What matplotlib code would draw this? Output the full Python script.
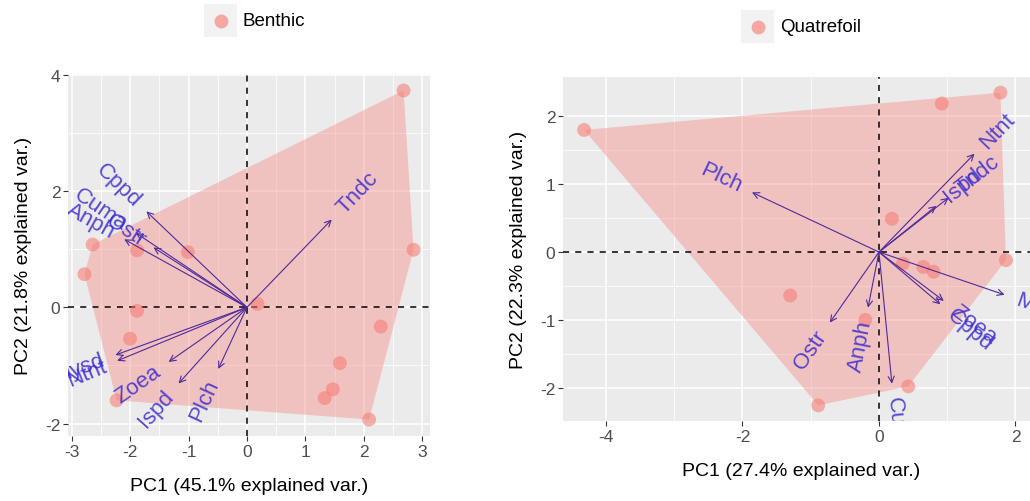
import numpy as np
import matplotlib
matplotlib.use("Agg")
import matplotlib.pyplot as plt
from matplotlib.patches import Rectangle, Polygon
from matplotlib.lines import Line2D
from matplotlib.transforms import offset_copy

plt.rcParams['font.family'] = ['Liberation Sans', 'DejaVu Sans']

# ---------------- data: Benthic ----------------
ben_pc1 = [2.68, 2.85, 2.29, 1.59, 1.47, 1.33, 2.09, 0.18, -1.01, -1.88,
           -2.64, -2.78, -1.88, -2.00, -2.23]
ben_pc2 = [3.73, 0.99, -0.33, -0.96, -1.41, -1.56, -1.93, 0.06, 0.95, 0.98,
           1.08, 0.57, -0.06, -0.54, -1.60]
ben_vars = ["Tndc", "Cppd", "Ostr", "Cuma", "Anph", "Mysd", "Ntnt", "Zoea", "Ispd", "Plch"]
ben_vx = [1.45, -1.72, -1.60, -1.90, -2.10, -2.25, -2.22, -1.34, -1.17, -0.49]
ben_vy = [1.51, 1.65, 1.03, 1.28, 1.17, -0.82, -0.92, -0.94, -1.31, -1.06]
ben_xlabel = "PC1 (45.1% explained var.)"
ben_ylabel = "PC2 (21.8% explained var.)"
ben_group = "Benthic"

# ---------------- data: Quatrefoil ----------------
qua_pc1 = [-4.32, 0.92, 1.78, 0.19, 1.86, 0.35, 0.65, 0.80, -1.30, -0.20, 0.43, -0.89]
qua_pc2 = [1.80, 2.19, 2.35, 0.49, -0.12, -0.17, -0.22, -0.29, -0.64, -1.00, -1.98, -2.26]
qua_vars = ["Plch", "Ntnt", "Ispd", "Tndc", "Mysd", "Zoea", "Cppd", "Ostr", "Anph", "Cuma"]
qua_vx = [-1.86, 1.40, 0.84, 1.02, 1.84, 0.95, 0.90, -0.72, -0.16, 0.19]
qua_vy = [0.88, 1.45, 0.68, 0.80, -0.63, -0.72, -0.77, -1.04, -0.82, -1.94]
qua_xlabel = "PC1 (27.4% explained var.)"
qua_ylabel = "PC2 (22.3% explained var.)"
qua_group = "Quatrefoil"

W, H = 1030, 502
fig = plt.figure(figsize=(W / 100, H / 100), dpi=100)

PT_COL = "#F8766D"
ARROW_COL = "#4f2a9c"
TEXT_COL = "#3a2ccf"
PANEL = "#EBEBEB"


def hull(xs, ys):
    pts = sorted(set(zip(xs, ys)))
    def cross(o, a, b):
        return (a[0] - o[0]) * (b[1] - o[1]) - (a[1] - o[1]) * (b[0] - o[0])
    lower, upper = [], []
    for p in pts:
        while len(lower) >= 2 and cross(lower[-2], lower[-1], p) <= 0:
            lower.pop()
        lower.append(p)
    for p in reversed(pts):
        while len(upper) >= 2 and cross(upper[-2], upper[-1], p) <= 0:
            upper.pop()
        upper.append(p)
    return lower[:-1] + upper[:-1]


def expand(vals, f=0.05):
    lo, hi = min(vals), max(vals)
    d = (hi - lo) * f
    return lo - d, hi + d


def panel(box, extra_right, pc1, pc2, vars_, vx, vy, xlabel, ylabel,
          xmajor, xminor, ymajor, yminor):
    x0, y0, x1, y1 = box
    ax = fig.add_axes([x0 / W, 1 - y1 / H, (x1 + extra_right - x0) / W, (y1 - y0) / H])
    ax.set_facecolor(PANEL)
    for s in ax.spines.values():
        s.set_visible(False)
    lo, hi = expand(pc1)
    scale = (x1 - x0) / (hi - lo)
    ax.set_xlim(lo, hi + extra_right / scale)
    ax.set_ylim(*expand(pc2))
    ax.set_xticks(xmajor)
    ax.set_yticks(ymajor)
    ax.set_xticks(xminor, minor=True)
    ax.set_yticks(yminor, minor=True)
    ax.set_xticklabels([f"{v:g}" for v in xmajor])
    ax.set_yticklabels([f"{v:g}" for v in ymajor])
    ax.grid(True, which="major", color="white", lw=1.1, zorder=0)
    ax.grid(True, which="minor", color="white", lw=0.55, zorder=0)
    ax.set_axisbelow(True)
    ax.tick_params(which="major", length=3.5, width=0.8, color="#333333",
                   labelsize=12.5, labelcolor="#4D4D4D", pad=2)
    ax.tick_params(which="minor", length=0)
    ax.set_xlabel(xlabel, fontsize=14, color="black", labelpad=13)
    ax.set_ylabel(ylabel, fontsize=14, color="black", labelpad=9)

    hp = hull(pc1, pc2)
    ax.add_patch(Polygon(hp, closed=True, facecolor=PT_COL, alpha=0.35,
                         edgecolor="none", zorder=1))
    ax.axhline(0, color="black", lw=1.1, ls=(0, (4, 4)), zorder=2)
    ax.axvline(0, color="black", lw=1.1, ls=(0, (4, 4)), zorder=2)
    ax.scatter(pc1, pc2, s=100, color=PT_COL, alpha=0.55, edgecolors="none", zorder=3)

    fs = 16
    for name, x, y in zip(vars_, vx, vy):
        ax.annotate("", xy=(x, y), xytext=(0, 0),
                    arrowprops=dict(arrowstyle="->", color=ARROW_COL, lw=0.8,
                                    shrinkA=0, shrinkB=0, mutation_scale=11),
                    zorder=4)
        ang = np.degrees(np.arctan2(y, x))
        est_w = fs * 0.56 * len(name)
        off = 0.25 * est_w
        dx, dy = off * np.cos(np.radians(ang)), off * np.sin(np.radians(ang))
        if x < 0:
            rot, ha = ang + 180, "right"
        else:
            rot, ha = ang, "left"
        tr = offset_copy(ax.transData, fig=fig, x=dx, y=dy, units="points")
        ax.text(x, y, name, transform=tr, rotation=rot, rotation_mode="anchor",
                ha=ha, va="center", fontsize=fs, color=TEXT_COL, alpha=0.85,
                clip_on=True, zorder=5)
    return ax


def legend(kx, ky, label):
    fig.patches.append(Rectangle((kx / W, 1 - (ky + 33) / H), 33 / W, 33 / H,
                                 transform=fig.transFigure, facecolor="#F2F2F2",
                                 edgecolor="none"))
    fig.lines.append(Line2D([(kx + 16.5) / W], [1 - (ky + 16.5) / H],
                            transform=fig.transFigure, marker="o", markersize=10,
                            color=PT_COL, alpha=0.6, markeredgecolor="none", ls="none"))
    fig.text((kx + 39) / W, 1 - (ky + 17) / H, label, fontsize=13.5,
             ha="left", va="center", color="black")


ax1 = panel((68, 75, 430, 437), 0, ben_pc1, ben_pc2, ben_vars, ben_vx, ben_vy,
            ben_xlabel, ben_ylabel,
            [-3, -2, -1, 0, 1, 2, 3], [-2.5, -1.5, -0.5, 0.5, 1.5, 2.5],
            [-2, 0, 2, 4], [-1, 1, 3])

ax2 = panel((563, 78, 1027, 422), 12, qua_pc1, qua_pc2, qua_vars, qua_vx, qua_vy,
            qua_xlabel, qua_ylabel,
            [-4, -2, 0, 2], [-3, -1, 1],
            [-2, -1, 0, 1, 2], [-1.5, -0.5, 0.5, 1.5])

legend(204, 5, ben_group)
legend(741, 11, qua_group)

fig.savefig("out.png", dpi=100, facecolor="white")
